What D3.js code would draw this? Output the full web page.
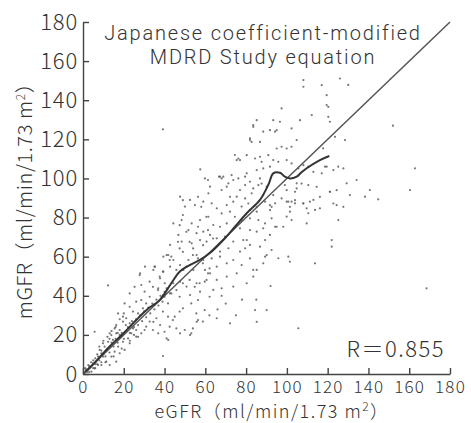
<!DOCTYPE html>
<html>
<head>
<meta charset="utf-8">
<script src="https://cdn.jsdelivr.net/npm/d3@7"></script>
<style>
    body { margin: 0; background: #fff; }
    #chart { width: 471px; height: 423px; }
    text { font-family: "Noto Sans CJK JP", "Noto Sans", sans-serif; font-weight: 300; fill: #333; }
    .chart-title { font-family: Roboto, "Noto Sans", sans-serif; font-weight: 300; }
    .tick line, .domain { stroke: #444; stroke-width: 1.4; }
</style>
</head>
<body>
<div id="chart"></div>
<script>
// axis ticks
const xTicks = [0, 20, 40, 60, 80, 100, 120, 140, 160, 180];
const yTicks = [0, 20, 40, 60, 80, 100, 120, 140, 160, 180];

// chart title lines
const titleLines = ["Japanese coefficient-modified", "MDRD Study equation"];

// line of identity
const identityX = [0, 180];
const identityY = [0, 180];

// smoothed (loess) curve
const loessX = [1, 5, 12, 20, 26, 32, 37.6, 43.3, 47.4, 52.3, 57.2, 62.1, 68.8, 74.5, 80.3, 86.8, 91, 93.3, 96.6, 99, 101.5, 104.8, 107, 109.7, 116.2, 120.8];
const loessY = [1, 5, 13, 21, 27.5, 33.5, 37.8, 46.4, 52.3, 55.7, 58.3, 61.7, 68.5, 75.3, 82.2, 89, 97, 102.6, 102.9, 100.9, 100, 100.9, 103, 105.2, 109.4, 111.5];

// eGFR / mGFR pairs
const scatterPoints = [
    [9.8, 8.9], [11.4, 12.3], [13.1, 14], [14.7, 17.4], [16.3, 20.8], [18, 22.5], [18.8, 19.1], [15.5, 23.3], [13.9, 19.9], [12.3, 16.5],
    [10.6, 14], [9, 10.6], [7.4, 8.9], [6.5, 6.3], [4.9, 5.5], [4.1, 3.7], [3.3, 2.9], [2.5, 2], [8.2, 12.3], [9.8, 15.7],
    [13.1, 20.8], [16.3, 25], [19.6, 26.8], [21.2, 28.5], [22.9, 25.9], [24.5, 23.3], [26.1, 22.5], [23.7, 20.8], [22.1, 18.2], [19.6, 16.5],
    [17.2, 14], [15.5, 11.4], [13.9, 8.9], [11.4, 6.3], [9, 4.6], [18, 10.6], [20.4, 12.3], [22.9, 15.7], [26.1, 19.1], [28.6, 20.8],
    [30.2, 22.5], [7.4, 4.6], [5.7, 2.9], [4.1, 1.2], [16.3, 6.3], [13.1, 4.6],
    [2, 1], [3, 4], [5, 3], [6, 8], [7, 5], [8, 7], [9, 12], [10, 10], [11, 9], [12, 13], [13, 11], [14, 16], [15, 14], [16, 18],
    [17, 16], [18, 20], [19, 21], [20, 18], [21, 22], [22, 24], [23, 21], [24, 27], [25, 24], [26, 28], [27, 25], [28, 30], [29, 27],
    [30, 32], [31, 29], [32, 34], [33, 31], [34, 36], [35, 33], [36, 38], [37, 35], [38, 40], [39, 37], [40, 42], [8, 14], [10, 17],
    [12, 19], [14, 22], [16, 24], [18, 28], [20, 31], [6, 3], [11, 6], [15, 9], [19, 13], [23, 17], [27, 19], [1, 3], [3, 1], [5, 7],
    [7, 10], [9, 6], [13, 18], [17, 21], [21, 25], [25, 20], [4, 6], [6, 5], [2, 2], [0.8, 0.5], [1.5, 2.4], [2.6, 4.6],
    [12.3, 45.3], [5.7, 21.6], [39.2, 9.2], [39.2, 125.1],
    [27.8, 50.6], [35.1, 54.9], [39.2, 52.3], [37.6, 49.8], [40.1, 46.4], [42.5, 58.3], [43.3, 60], [49, 62.5], [53.9, 60.8], [56.4, 59.1],
    [58.8, 56.6], [62.1, 54], [50.7, 54.9], [45.8, 53.2], [32.7, 47.2], [34.3, 44.6], [36.8, 42.9], [22.9, 41.2], [25.3, 44.6], [28.6, 45.5],
    [30.2, 42.1], [32.7, 39.5], [26.1, 37], [28.6, 37.8], [31, 36.1], [20.4, 36.1], [22.9, 34.4], [17.2, 31], [19.6, 29.3], [24.5, 31.9],
    [27, 31], [29.4, 33.6], [35.1, 35.3], [37.6, 37.8], [40, 39.5], [41.7, 36.1], [43.3, 41.2], [45.8, 42.9], [47.4, 39.5], [49, 46.4],
    [52.3, 48.1], [54.8, 44.6], [57.2, 46.4], [59.7, 47.2], [61.3, 51.5], [53.1, 36.1], [56.4, 37.8], [59.7, 32.7], [62.1, 39.5], [49, 33.6],
    [45, 29.3], [41.7, 29.3], [39.2, 31.9], [36, 28.5], [32.7, 26.8], [31, 24.2], [34.3, 22.5], [40, 21.6], [44.1, 27.6], [47.4, 31.9],
    [49.9, 22.5], [53.9, 23.3], [56.4, 27.6], [58.8, 26.8], [42.5, 24.2], [45.8, 23.3], [53.1, 20.8], [55.6, 31],
    [59.8, 100], [67.2, 100.9], [72.9, 101.7], [76.2, 100], [80.3, 102.6], [81.9, 98.3], [79.5, 96.6], [86, 96.6], [86.8, 100], [90.1, 95.8],
    [71.3, 97.5], [77, 94.1], [82.7, 92.4], [88.4, 91.5], [62.3, 95.8], [61.5, 92.4], [68, 94.1], [75.4, 90.7], [79.5, 89.8], [89.3, 88.1],
    [91.7, 83.8], [94.2, 87.3], [47.6, 90.7], [52.5, 89], [54.9, 86.4], [50, 85.6], [59, 88.1], [63.1, 87.3], [65.6, 84.7], [70.5, 86.4],
    [73.7, 88.1], [77.8, 85.6], [81.9, 83.8], [85.2, 83], [68, 82.1], [72.1, 83], [74.5, 80.4], [77.8, 78.7], [81.9, 79.6], [86, 78.7],
    [89.3, 77], [92.5, 79.6], [44.3, 77], [48.4, 78.7], [53.3, 77], [57.4, 78.7], [61.5, 80.4], [63.9, 76.2], [67.2, 75.3], [70.5, 77],
    [51.7, 73.6], [55.7, 72], [59, 72.8], [62.3, 71.1], [65.6, 69.4], [69.6, 70.2], [46.8, 71.1], [48.4, 67.7], [42.7, 66], [53.3, 66.8],
    [57.4, 68.5], [60.6, 67.7], [77, 74.5], [78.6, 68.5], [81.9, 73.6], [85.2, 72.8], [88.4, 74.5], [91.7, 71.1], [94.2, 75.3], [81.9, 66],
    [86.8, 65.1], [89.3, 68.5], [92.5, 63.4], [73.7, 67.7], [77, 62.6], [79.5, 64.3], [71.3, 64.3], [67.2, 62.6], [41, 60.8], [44.3, 58.3],
    [42.7, 54.9], [39.4, 52.3], [35.3, 54.9], [37.8, 48.9], [47.6, 55.7], [51.7, 58.3], [49.2, 53.2], [55.7, 60.8], [54.1, 53.2], [59, 58.3],
    [63.1, 59.1], [67.2, 60], [59.8, 53.2], [62.3, 51.5], [65.6, 54.9], [70.5, 56.6], [73.7, 58.3], [77.8, 55.7], [81.9, 59.1], [85.2, 53.2],
    [88.4, 56.6], [90.1, 60.8], [75.4, 51.5], [70.5, 49.8], [65.6, 48.1], [60.6, 48.1], [55.7, 46.4], [50.8, 44.7], [47.6, 47.2], [44.3, 46.4],
    [41, 43.8], [36.9, 43.8], [39.4, 40.4], [42.7, 41.2], [52.5, 40.4], [57.4, 42.1], [63.9, 43], [68, 43.8], [73.7, 44.7], [80.3, 46.4],
    [83.5, 49.8],
    [57.5, 104.6], [61.3, 99.2], [66.7, 100.9], [49, 88.9], [56.4, 90.6], [58, 85.5], [49, 81.3], [60.5, 80.4], [47.4, 76.1], [56.4, 75.3],
    [50.7, 72.7], [61.3, 73.6], [46.6, 67.6], [52.3, 67.6], [63.8, 69.3], [47.4, 64.2], [54, 64.2], [58.9, 65.9],
    [28, 51.5], [30.4, 54.9], [34.5, 53.2], [39.4, 60], [41.8, 60.8], [83.5, 127.3], [81.9, 120.5], [95, 124.7], [74.5, 112], [75.4, 109.4],
    [87.6, 108.5], [68, 100], [70.5, 95.8], [90.1, 32.7], [85.2, 26.7], [72.1, 25.9], [65.6, 28.5], [55.8, 26.7], [47.6, 20.8], [41, 18.2],
    [84.4, 32.7], [89.3, 60], [83.5, 53.2], [80.3, 68.5], [52.5, 19.9], [41.8, 17.4], [36.9, 20.8], [34.5, 26.7], [37.8, 25],
    [66, 33], [70, 36], [75, 30], [78, 38], [85, 38], [62, 30], [68, 40], [92, 45],
    [108.1, 150.3], [108.1, 146.9], [117.1, 147.7], [119.5, 142.6], [126, 151.1], [120.3, 136.6], [112.2, 132.4], [106.4, 129.8], [97.4, 135.8], [96.6, 129],
    [93.3, 129.8], [102.3, 125.6], [83.5, 126.4], [85.2, 129.8], [88.4, 123.9], [91.7, 124.7], [94.2, 123.9], [104.8, 119.6], [102.3, 116.2], [99.9, 115.3],
    [97.4, 116.2], [95, 115.3], [81.9, 119.6], [82.7, 118.7], [86.8, 118.7], [76.2, 110.2], [77, 109.4], [80.3, 111.9], [84.4, 110.2], [86.8, 111.1],
    [90.9, 111.9], [93.3, 109.4], [95.8, 108.5], [99.9, 109.4], [102.3, 107.7], [105.6, 105.1], [108.1, 106.8], [110.5, 106], [113, 103.4], [117.1, 102.6],
    [119.5, 106], [122.8, 104.3], [125.2, 106], [127.7, 105.1], [85.2, 104.3], [88.4, 105.1], [91.7, 106], [99.9, 94], [104.8, 94.9], [107.2, 97.4],
    [110.5, 96.6], [114.6, 95.7], [121.1, 93.2], [124.4, 94], [97.4, 89.8], [100.7, 88.1], [104, 88.9], [108.1, 87.2], [111.3, 88.1], [116.2, 90.6],
    [122.8, 87.2], [101.5, 85.5], [127.7, 85.5], [116.2, 84.7], [109.7, 84.7],
    [68.8, 100.9], [73.7, 99.2], [79.5, 100.9], [83.5, 94.9], [87.6, 97.4], [93.3, 91.5], [72.1, 90.6], [85.2, 85.5], [91.7, 86.4], [81.1, 87.2],
    [99, 96.6], [104.8, 97.5], [104, 93.2], [99.9, 88.1], [102.3, 88.1], [104, 87.3], [108, 87.3], [113, 89], [110.5, 82.2], [113.8, 83.9],
    [101.5, 83], [99.9, 80.5], [102.3, 78.7], [109.7, 77], [98.2, 75.3], [121.1, 93.2], [129.3, 97.5], [134.2, 99.2], [130.9, 91.5], [140.7, 94.1],
    [138.3, 90.7], [144.8, 89.3], [160.4, 94.1], [124.4, 86.4], [125.2, 78.7], [122, 68.5], [122, 65.1], [100.7, 60], [101.5, 57.4], [113.8, 56.6],
    [168.5, 43.8], [105.6, 23.4],
    [152, 127], [162.8, 105.2], [119.5, 137.5], [120.3, 131.5], [121.1, 129], [128.5, 119.6], [123.6, 121.3], [117.8, 115.4], [118.7, 106],
    [95.8, 59.2], [95, 75.3], [92.5, 85.5], [130.1, 147.8]
];

function renderChart() {
    const width = 471;
    const height = 423;
    const left = 83, right = 450, top = 22, bottom = 374;

    const svg = d3.select("#chart").append("svg")
        .attr("width", width)
        .attr("height", height);

    const xScale = d3.scaleLinear().domain([0, 180]).range([left, right]);
    const yScale = d3.scaleLinear().domain([0, 180]).range([bottom, top]);

    // scatter
    svg.append("g")
        .selectAll("circle")
        .data(scatterPoints)
        .join("circle")
        .attr("cx", d => xScale(d[0]))
        .attr("cy", d => yScale(d[1]))
        .attr("r", 1.1)
        .attr("fill", "#555")
        .attr("opacity", 0.8);

    // identity line
    svg.append("path")
        .datum(d3.zip(identityX, identityY))
        .attr("fill", "none")
        .attr("stroke", "#555")
        .attr("stroke-width", 1.5)
        .attr("d", d3.line().x(d => xScale(d[0])).y(d => yScale(d[1])));

    // loess curve
    svg.append("path")
        .datum(d3.zip(loessX, loessY))
        .attr("fill", "none")
        .attr("stroke", "#333")
        .attr("stroke-width", 2)
        .attr("d", d3.line().curve(d3.curveCatmullRom).x(d => xScale(d[0])).y(d => yScale(d[1])));

    // x-axis (ticks point inward)
    svg.append("g")
        .attr("transform", `translate(0, ${bottom})`)
        .call(d3.axisBottom(xScale).tickValues(xTicks).tickSizeInner(-6).tickSizeOuter(0).tickPadding(7))
        .call(g => g.selectAll("text").style("font-size", "17px").style("letter-spacing", "1.2px").attr("fill", "#333"));

    // y-axis
    svg.append("g")
        .attr("transform", `translate(${left}, 0)`)
        .call(d3.axisLeft(yScale).tickValues(yTicks).tickSizeInner(-6).tickSizeOuter(0).tickPadding(5))
        .call(g => g.selectAll("text").style("font-size", "22px").style("letter-spacing", "0.8px").attr("fill", "#333"));

    // axis titles
    const xTitle = svg.append("text")
        .attr("x", 272)
        .attr("y", 417.7)
        .attr("text-anchor", "middle")
        .style("font-size", "18px")
        .style("letter-spacing", "1.5px");
    xTitle.append("tspan").text("eGFR（ml/min/1.73 m");
    xTitle.append("tspan").attr("dy", -7).style("font-size", "12px").text("2");
    xTitle.append("tspan").attr("dy", 7).text("）");

    const yTitle = svg.append("text")
        .attr("transform", `translate(32, 196) rotate(-90)`)
        .attr("text-anchor", "middle")
        .style("font-size", "20px")
        .style("letter-spacing", "0.6px");
    yTitle.append("tspan").text("mGFR（ml/min/1.73 m");
    yTitle.append("tspan").attr("dy", -7).style("font-size", "12px").text("2");
    yTitle.append("tspan").attr("dy", 7).text("）");

    // title, two lines
    svg.append("text")
        .attr("class", "chart-title")
        .attr("text-anchor", "middle")
        .style("font-size", "20px")
        .style("letter-spacing", "1.8px")
        .selectAll("tspan")
        .data(titleLines)
        .join("tspan")
        .attr("x", 263)
        .attr("y", (d, i) => 40 + i * 24)
        .text(d => d);

    // correlation
    svg.append("text")
        .attr("x", 445)
        .attr("y", 357)
        .attr("text-anchor", "end")
        .style("font-size", "22px")
        .style("letter-spacing", "1.5px")
        .text("R＝0.855");
}

renderChart();
</script>
</body>
</html>
